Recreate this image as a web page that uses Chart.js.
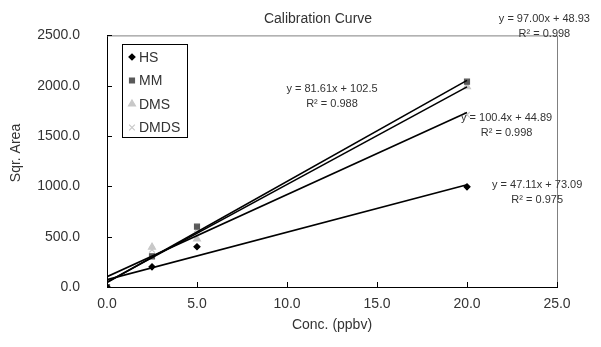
<!DOCTYPE html>
<html>
<head>
<meta charset="utf-8">
<script src="https://cdn.jsdelivr.net/npm/chart.js@4"></script>
<style>
  html, body { margin: 0; padding: 0; background: #fff; }
  #wrap { width: 601px; height: 347px; }
</style>
</head>
<body>
<div id="wrap"><canvas id="calChart" width="601" height="347"></canvas></div>
<script>
// data
const conc = [0, 2.5, 5, 20];
const hsArea = [0, 200, 400, 995];
const mmArea = [0, 305, 600, 2040];
const dmsArea = [0, 396, 477, 1990];
const dmdsArea = [0, 370, 573, 1711];

// trendline equations as printed on the chart
const slopes = [47.11, 100.4, 97.00, 81.61];
const intercepts = [73.09, 44.89, 48.93, 102.5];
const eqLabels = ['y = 47.11x + 73.09', 'y = 100.4x + 44.89', 'y = 97.00x + 48.93', 'y = 81.61x + 102.5'];
const r2Labels = ['R² = 0.975', 'R² = 0.998', 'R² = 0.998', 'R² = 0.988'];
const seriesNames = ['HS', 'MM', 'DMS', 'DMDS'];

const yTicks = [0, 500, 1000, 1500, 2000, 2500];
const xTicks = [0, 5, 10, 15, 20, 25];

const FONT = '"Liberation Sans", Arial, sans-serif';

function pts(ys) {
    return conc.map((x, i) => ({ x: x, y: ys[i] }));
}
function trend(i) {
    return [0, 20].map(x => ({ x: x, y: slopes[i] * x + intercepts[i] }));
}

const markerStyles = [
    { pointStyle: 'rectRot', color: '#000000', radius: 3 },
    { pointStyle: 'rect', color: '#5a5a5a', radius: 3.5 },
    { pointStyle: 'triangle', color: '#c8c8c8', radius: 4 },
    { pointStyle: 'crossRot', color: '#c8c8c8', radius: 4 }
];
const areas = [hsArea, mmArea, dmsArea, dmdsArea];

const datasets = [];
areas.forEach((a, i) => {
    datasets.push({
        label: seriesNames[i],
        type: 'scatter',
        data: pts(a),
        pointStyle: markerStyles[i].pointStyle,
        pointRadius: markerStyles[i].radius,
        backgroundColor: markerStyles[i].color,
        borderColor: markerStyles[i].color,
        borderWidth: 1.2,
        order: 2
    });
});
areas.forEach((a, i) => {
    datasets.push({
        label: 'trend ' + seriesNames[i],
        type: 'line',
        data: trend(i),
        borderColor: '#000000',
        borderWidth: 1.6,
        pointRadius: 0,
        fill: false,
        order: 1
    });
});

// where each equation box sits (in data units), like the Excel labels
const eqPos = [
    { x: 23.9, y: 1010 },
    { x: 22.2, y: 1680 },
    { x: 24.3, y: 2660 },
    { x: 12.5, y: 1970 }
];

const extras = {
    id: 'extras',
    afterDraw(chart) {
        const ctx = chart.ctx;
        const area = chart.chartArea;
        const xs = chart.scales.x, ys = chart.scales.y;
        ctx.save();

        // frame: top and right grey
        ctx.strokeStyle = '#808080';
        ctx.lineWidth = 1;
        ctx.beginPath();
        ctx.moveTo(area.left, area.top + 0.5);
        ctx.lineTo(area.right + 0.5, area.top + 0.5);
        ctx.lineTo(area.right + 0.5, area.bottom);
        ctx.stroke();

        // inward ticks
        ctx.strokeStyle = '#000';
        ctx.beginPath();
        yTicks.forEach(v => {
            const py = Math.round(ys.getPixelForValue(v)) + 0.5;
            ctx.moveTo(area.left, py);
            ctx.lineTo(area.left + 5, py);
        });
        xTicks.forEach(v => {
            const px = Math.round(xs.getPixelForValue(v)) + 0.5;
            ctx.moveTo(px, area.bottom);
            ctx.lineTo(px, area.bottom - 5);
        });
        ctx.stroke();

        // title
        ctx.fillStyle = '#333';
        ctx.font = '14px ' + FONT;
        ctx.textAlign = 'center';
        ctx.textBaseline = 'middle';
        ctx.fillText('Calibration Curve', 318, 19);

        // y axis title
        ctx.save();
        ctx.translate(16, 153);
        ctx.rotate(-Math.PI / 2);
        ctx.fillText('Sqr. Area', 0, 0);
        ctx.restore();

        // equations
        ctx.font = '11px ' + FONT;
        eqPos.forEach((p, i) => {
            const px = xs.getPixelForValue(p.x);
            const py = ys.getPixelForValue(p.y);
            ctx.fillText(eqLabels[i], px, py);
            ctx.fillText(r2Labels[i], px, py + 15);
        });

        // legend box
        const lx = 122, ly = 44, lw = 65, lh = 93;
        ctx.fillStyle = '#fff';
        ctx.fillRect(lx, ly, lw, lh);
        ctx.strokeStyle = '#000';
        ctx.lineWidth = 1;
        ctx.strokeRect(lx + 0.5, ly + 0.5, lw, lh);
        ctx.font = '14px ' + FONT;
        ctx.textAlign = 'left';
        seriesNames.forEach((name, i) => {
            const cy = ly + 13 + i * 23.5;
            const m = markerStyles[i];
            ctx.fillStyle = m.color;
            ctx.strokeStyle = m.color;
            ctx.lineWidth = 1.2;
            Chart.helpers.drawPoint(ctx, {
                pointStyle: m.pointStyle,
                radius: m.radius,
                borderWidth: 1.2
            }, lx + 10, cy);
            ctx.fillStyle = '#333';
            ctx.fillText(name, lx + 17, cy + 1);
        });
        ctx.restore();
    }
};

new Chart(document.getElementById('calChart').getContext('2d'), {
    type: 'scatter',
    data: { datasets: datasets },
    options: {
        responsive: false,
        animation: false,
        layout: { padding: { top: 33, right: 44, bottom: 0, left: 0 } },
        plugins: {
            legend: { display: false },
            tooltip: { enabled: false }
        },
        scales: {
            x: {
                type: 'linear',
                min: 0,
                max: 25,
                afterFit(scale) { scale.height = 60; },
                afterBuildTicks(scale) { scale.ticks = xTicks.map(v => ({ value: v })); },
                grid: { display: false, drawTicks: false },
                border: { display: true, color: '#000', width: 1 },
                ticks: {
                    padding: 9,
                    color: '#333',
                    font: { size: 14, family: FONT },
                    callback: v => Number(v).toFixed(1)
                },
                title: {
                    display: true,
                    text: 'Conc. (ppbv)',
                    color: '#333',
                    font: { size: 14, family: FONT },
                    padding: { top: 4, bottom: 13 }
                }
            },
            y: {
                type: 'linear',
                min: 0,
                max: 2500,
                afterFit(scale) { scale.width = 107; },
                afterBuildTicks(scale) { scale.ticks = yTicks.map(v => ({ value: v })); },
                grid: { display: false, drawTicks: false },
                border: { display: true, color: '#000', width: 1 },
                ticks: {
                    padding: 27,
                    color: '#333',
                    font: { size: 14, family: FONT },
                    callback: v => Number(v).toFixed(1)
                },
                title: { display: false }
            }
        }
    },
    plugins: [extras]
});
</script>
</body>
</html>
